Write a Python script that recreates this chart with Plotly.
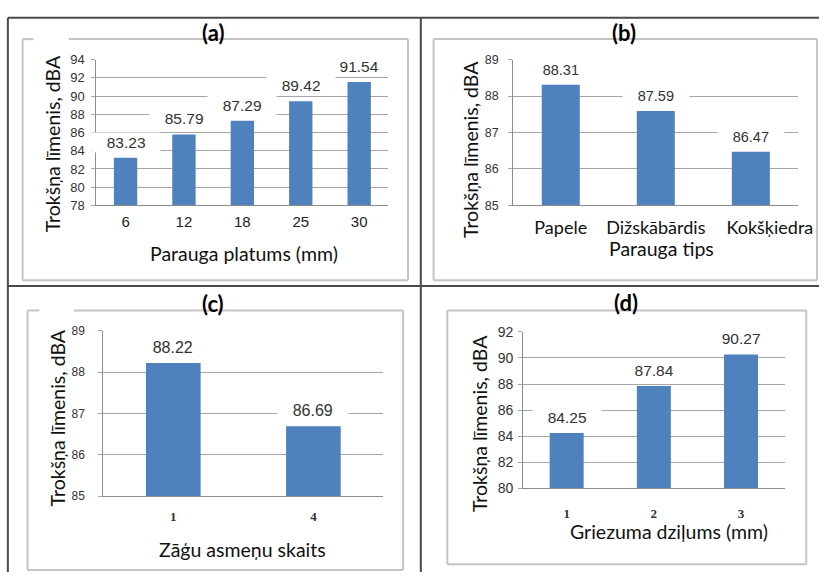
import plotly.graph_objects as go

# Noise level measurements (dBA) for four test series
width_cats = ["6", "12", "18", "25", "30"]
width_vals = [83.23, 85.79, 87.29, 89.42, 91.54]

type_cats = ["Papele", "Dižskābārdis", "Kokšķiedra"]
type_vals = [88.31, 87.59, 86.47]

blade_cats = ["1", "4"]
blade_vals = [88.22, 86.69]

depth_cats = ["1", "2", "3"]
depth_vals = [84.25, 87.84, 90.27]

W, H = 834, 581
BAR = "#4F81BD"
GRID = "#a6a6a6"
SANS = "Liberation Sans"
HUM = "Lato"
SERIF = "Liberation Serif"


def px(x):
    return x / W


def py(y):
    return 1 - y / H


# panel definitions: plot-area pixel box, data, ranges, fonts
# "tick_shift" lets a category label sit off-centre from its bar
panels = [
    dict(cats=width_cats, vals=width_vals, box=(98, 395, 53, 203), rng=[78, 94], dtick=2,
         bw=0.4, ytf=13, ystand=4,
         xtf=dict(family=SANS, size=15, color="#222"), xstand=3, tick_shift=None,
         lblsize=15.5, title="(a)", tpos=(217, 25),
         ytitle=(53, 140), xtitle="Parauga platums (mm)", xtpos=(248, 252)),
    dict(cats=type_cats, vals=type_vals, box=(522, 812, 53, 203), rng=[85, 89], dtick=1,
         bw=0.4, ytf=12.5, ystand=7,
         xtf=dict(family=HUM, size=18, color="#111"), xstand=6, tick_shift=[0, 0, 0.2],
         lblsize=14.5, title="(b)", tpos=(635, 25),
         ytitle=(478, 145), xtitle="Parauga tips", xtpos=(673, 247)),
    dict(cats=blade_cats, vals=blade_vals, box=(105, 390, 332, 502), rng=[85, 89], dtick=1,
         bw=0.39, ytf=12, ystand=11,
         xtf=dict(family=SERIF, size=13, color="#333", weight=700), xstand=8, tick_shift=None,
         lblsize=16, title="(c)", tpos=(217, 304),
         ytitle=(58, 422), xtitle="Zāģu asmeņu skaits", xtpos=(247, 557)),
    dict(cats=depth_cats, vals=depth_vals, box=(532, 798, 333, 494), rng=[80, 92], dtick=2,
         bw=0.39, ytf=14, ystand=2,
         xtf=dict(family=SERIF, size=13, color="#333", weight=700), xstand=13, tick_shift=None,
         lblsize=15.5, title="(d)", tpos=(637, 303),
         ytitle=(487, 427), xtitle="Griezuma dziļums (mm)", xtpos=(680, 538)),
]

fig = go.Figure()
annotations = []
layout_axes = {}

for i, p in enumerate(panels, start=1):
    xa = "x" if i == 1 else f"x{i}"
    ya = "y" if i == 1 else f"y{i}"
    n = len(p["cats"])
    idx = list(range(n))
    shift = p["tick_shift"] or [0] * n
    fig.add_trace(go.Bar(x=idx, y=p["vals"], xaxis=xa, yaxis=ya,
                         marker=dict(color=BAR, line=dict(width=0)),
                         width=p["bw"], showlegend=False, hoverinfo="skip"))
    x0, x1, y0, y1 = p["box"]
    layout_axes["xaxis" if i == 1 else f"xaxis{i}"] = dict(
        domain=[px(x0), px(x1)], anchor=ya, range=[-0.5, n - 0.5],
        tickmode="array", tickvals=[k + s for k, s in zip(idx, shift)], ticktext=p["cats"],
        showgrid=False, zeroline=False, showline=True, linecolor="#8c8c8c", linewidth=1,
        ticks="", tickangle=0, tickfont=p["xtf"], ticklabelstandoff=p["xstand"],
        fixedrange=True)
    layout_axes["yaxis" if i == 1 else f"yaxis{i}"] = dict(
        domain=[py(y1), py(y0)], anchor=xa, range=p["rng"], dtick=p["dtick"],
        showgrid=True, gridcolor=GRID, gridwidth=1, zeroline=False,
        showline=True, linecolor="#8c8c8c", linewidth=1,
        ticks="outside", ticklen=4, tickcolor=GRID,
        tickfont=dict(family=SANS, size=p["ytf"], color="#333"),
        ticklabelstandoff=p["ystand"], fixedrange=True)

    # value labels above bars, white boxes break the gridlines
    for k, v in zip(idx, p["vals"]):
        annotations.append(dict(x=k, y=v, xref=xa, yref=ya, text=f"{v:.2f}",
                                showarrow=False, yanchor="bottom", yshift=5,
                                bgcolor="white", width=p["lblsize"] * 2.6 + 26,
                                font=dict(family=SANS, size=p["lblsize"], color="#333")))
    # panel letter
    annotations.append(dict(x=px(p["tpos"][0]), y=py(p["tpos"][1]), xref="paper", yref="paper",
                            text=p["title"], showarrow=False, xanchor="center", yanchor="middle",
                            font=dict(family=HUM, size=22, color="#000", weight=700)))
    # axis titles
    annotations.append(dict(x=px(p["ytitle"][0]), y=py(p["ytitle"][1]), xref="paper", yref="paper",
                            text="Trokšņa līmenis, dBA", textangle=-90, showarrow=False,
                            xanchor="center", yanchor="middle",
                            font=dict(family=HUM, size=19.5, color="#111")))
    annotations.append(dict(x=px(p["xtpos"][0]), y=py(p["xtpos"][1]), xref="paper", yref="paper",
                            text=p["xtitle"], showarrow=False, xanchor="center", yanchor="middle",
                            font=dict(family=HUM, size=19.5, color="#111")))

shapes = []


def line(x0, y0, x1, y1, color, w):
    shapes.append(dict(type="line", xref="paper", yref="paper",
                       x0=px(x0), y0=py(y0), x1=px(x1), y1=py(y1),
                       line=dict(color=color, width=w), layer="below"))


# chart frames (light gray)
FR = "#c4c4c4"
for (l, r, t, b, gap) in [(23, 415, 32, 280, (34, 70)), (441, 831, 32, 280, None),
                          (28, 410, 311, 578, (40, 75)), (455, 820, 311, 572, None)]:
    if gap:
        line(l, t, gap[0], t, FR, 2)
        line(gap[1], t, r, t, FR, 2)
    else:
        line(l, t, r, t, FR, 2)
    line(l, b, r, b, FR, 2)
    line(l, t, l, b, FR, 2)
    line(r, t, r, b, FR, 2)

# outer grid (dark)
DK = "#4a4a4a"
line(8, 10, 833, 10, DK, 2)
line(8, 10, 8, 580, DK, 2)
line(428, 10, 428, 580, DK, 2)
line(8, 286, 833, 286, DK, 2)

fig.update_layout(width=W, height=H, margin=dict(l=0, r=0, t=0, b=0),
                  paper_bgcolor="white", plot_bgcolor="white",
                  annotations=annotations, shapes=shapes,
                  **layout_axes)

fig.write_html("out.html", config=dict(displayModeBar=False, staticPlot=True))
